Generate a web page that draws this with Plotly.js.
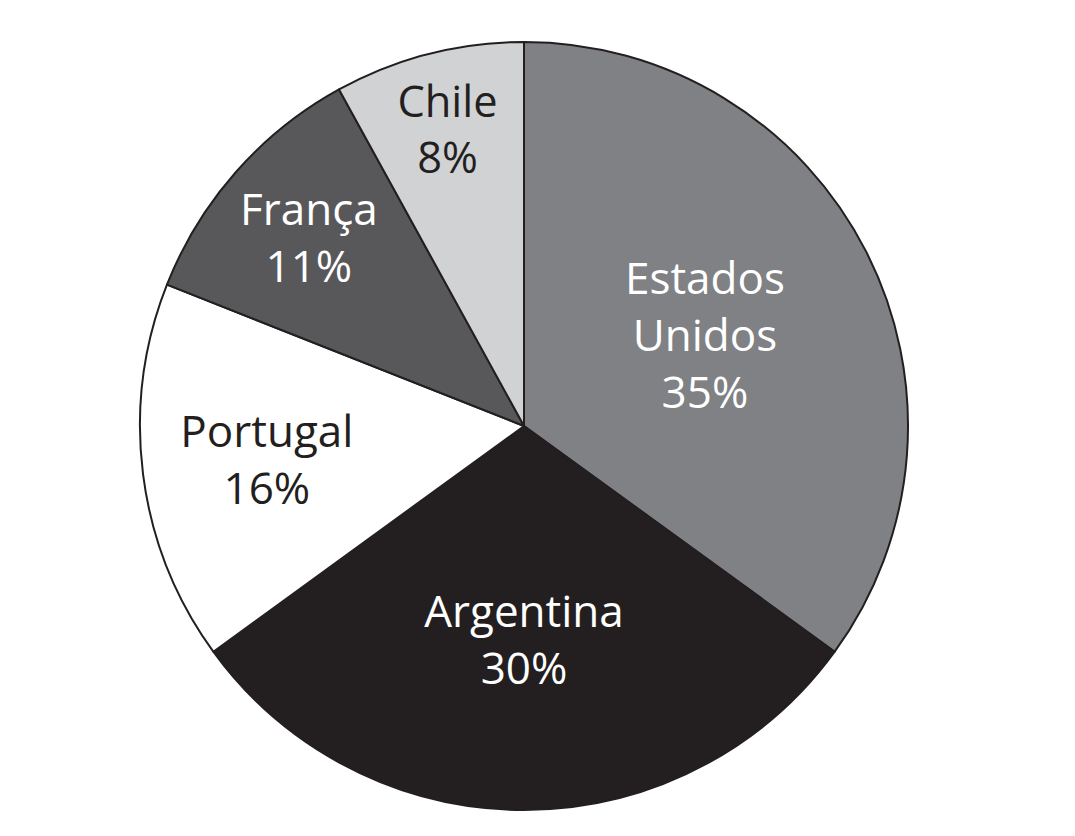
<!DOCTYPE html>
<html>
<head>
<meta charset="utf-8">
<script src="https://cdn.plot.ly/plotly-3.0.1.min.js"></script>
<style>
  html, body { margin: 0; padding: 0; background: #fff; }
  #chart { width: 1075px; height: 836px; }
</style>
</head>
<body>
<div id="chart"></div>
<script>
const countries = ['Estados<br>Unidos', 'Argentina', 'Portugal', 'França', 'Chile']
const shares = [35, 30, 16, 11, 8]
const sliceColors = ['#808184', '#231f20', '#ffffff', '#58585a', '#d1d2d4']
const textColors = ['#ffffff', '#ffffff', '#231f20', '#ffffff', '#231f20']

const labels = countries.map((c, i) => `${c}<br>${shares[i]}%`)

const data = [{
  type: 'pie',
  values: shares,
  labels: countries,
  text: labels,
  textinfo: 'text',
  textposition: 'inside',
  insidetextorientation: 'horizontal',
  sort: false,
  direction: 'clockwise',
  rotation: 0,
  hoverinfo: 'none',
  showlegend: false,
  domain: { x: [0.1284, 0.8465], y: [0.0311, 0.9498] },
  marker: {
    colors: sliceColors,
    line: { color: '#231f20', width: 2 }
  },
  insidetextfont: { family: 'Open Sans, sans-serif', size: 44, color: textColors }
}]

const layout = {
  width: 1075,
  height: 836,
  margin: { l: 0, r: 0, t: 0, b: 0 },
  paper_bgcolor: '#ffffff',
  plot_bgcolor: '#ffffff',
  showlegend: false
}

Plotly.newPlot('chart', data, layout, { displayModeBar: false, staticPlot: true })
</script>
</body>
</html>
